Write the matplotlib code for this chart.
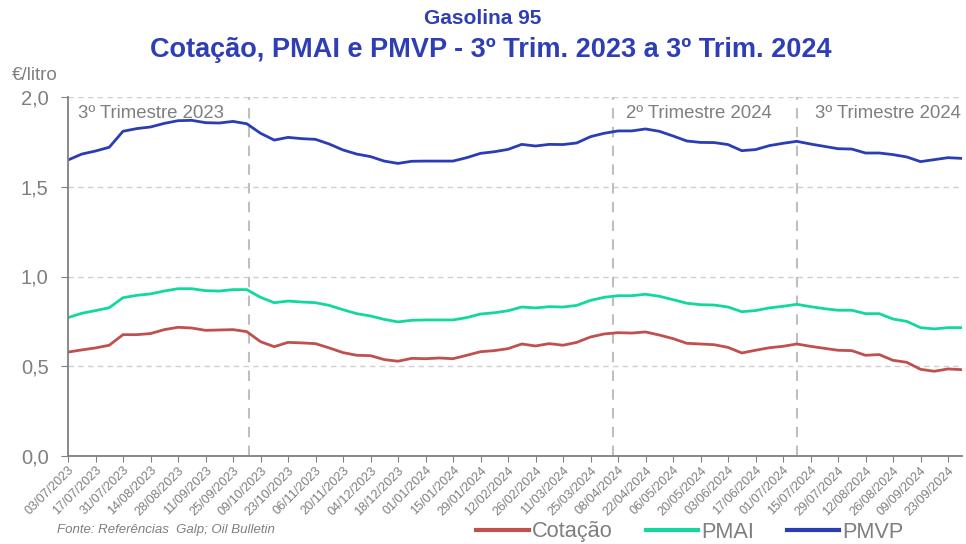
import matplotlib
matplotlib.use("Agg")
import matplotlib.pyplot as plt
import numpy as np

plt.rcParams['font.family'] = ['Liberation Sans', 'DejaVu Sans']

# Weekly series (€/litro), from 03/07/2023 to 30/09/2024
cotacao = [0.579, 0.591, 0.602, 0.617, 0.676, 0.676, 0.682, 0.704, 0.717, 0.713,
           0.700, 0.702, 0.704, 0.693, 0.637, 0.609, 0.633, 0.630, 0.626, 0.602,
           0.576, 0.561, 0.559, 0.537, 0.528, 0.544, 0.542, 0.546, 0.542, 0.561,
           0.581, 0.587, 0.598, 0.624, 0.613, 0.626, 0.617, 0.633, 0.663, 0.680,
           0.687, 0.685, 0.691, 0.674, 0.654, 0.628, 0.624, 0.620, 0.605, 0.574,
           0.589, 0.603, 0.611, 0.624, 0.611, 0.600, 0.589, 0.587, 0.561, 0.565,
           0.533, 0.522, 0.483, 0.472, 0.485, 0.481]
pmai = [0.771, 0.795, 0.810, 0.826, 0.882, 0.895, 0.903, 0.919, 0.932, 0.932,
        0.921, 0.919, 0.927, 0.927, 0.884, 0.854, 0.863, 0.858, 0.854, 0.839,
        0.815, 0.793, 0.780, 0.761, 0.747, 0.756, 0.758, 0.758, 0.758, 0.771,
        0.791, 0.798, 0.809, 0.830, 0.825, 0.832, 0.830, 0.839, 0.867, 0.884,
        0.893, 0.893, 0.901, 0.890, 0.871, 0.851, 0.843, 0.841, 0.830, 0.804,
        0.810, 0.825, 0.834, 0.845, 0.832, 0.821, 0.812, 0.812, 0.793, 0.793,
        0.763, 0.750, 0.715, 0.708, 0.715, 0.715]
pmvp = [1.649, 1.682, 1.699, 1.720, 1.809, 1.824, 1.833, 1.853, 1.868, 1.870,
        1.857, 1.855, 1.864, 1.851, 1.798, 1.760, 1.775, 1.768, 1.764, 1.738,
        1.705, 1.682, 1.668, 1.643, 1.630, 1.642, 1.643, 1.643, 1.643, 1.662,
        1.686, 1.695, 1.708, 1.736, 1.727, 1.736, 1.735, 1.744, 1.779, 1.798,
        1.811, 1.811, 1.822, 1.809, 1.783, 1.755, 1.747, 1.746, 1.735, 1.701,
        1.707, 1.729, 1.742, 1.753, 1.738, 1.725, 1.712, 1.710, 1.688, 1.688,
        1.679, 1.666, 1.640, 1.651, 1.662, 1.658]

tick_labels = ["03/07/2023", "17/07/2023", "31/07/2023", "14/08/2023", "28/08/2023",
               "11/09/2023", "25/09/2023", "09/10/2023", "23/10/2023", "06/11/2023",
               "20/11/2023", "04/12/2023", "18/12/2023", "01/01/2024", "15/01/2024",
               "29/01/2024", "12/02/2024", "26/02/2024", "11/03/2024", "25/03/2024",
               "08/04/2024", "22/04/2024", "06/05/2024", "20/05/2024", "03/06/2024",
               "17/06/2024", "01/07/2024", "15/07/2024", "29/07/2024", "12/08/2024",
               "26/08/2024", "09/09/2024", "23/09/2024"]

quarter_labels = ["3º Trimestre 2023", "2º Trimestre 2024", "3º Trimestre 2024"]
quarter_marks = [13.15, 39.6, 53.0]

series_names = ["Cotação", "PMAI", "PMVP"]
colors = ["#C0504D", "#12D89E", "#2B3DB4"]
gray = "#7F7F7F"

fig = plt.figure(figsize=(9.66, 5.44), dpi=100)
ax = fig.add_axes([68/966, 1-456/544, 893.75/966, 359/544])

x = np.arange(len(cotacao))
for vals, name, c in zip([cotacao, pmai, pmvp], series_names, colors):
    ax.plot(x, vals, color=c, lw=2.0, label=name, solid_joinstyle='round')

ax.set_xlim(0, len(cotacao) - 1)
ax.set_ylim(0, 2.0)
ax.set_yticks([0, 0.5, 1.0, 1.5, 2.0])
ax.set_yticklabels(["0,0", "0,5", "1,0", "1,5", "2,0"])
ax.yaxis.grid(True, linestyle=(0, (4, 3)), color="#D0D0D0", lw=1.0)
ax.set_axisbelow(True)

ax.set_xticks(np.arange(0, len(tick_labels) * 2, 2))
ax.set_xticklabels(tick_labels, rotation=45, ha='right', rotation_mode='anchor',
                   fontsize=9.1, color=gray)
ax.tick_params(axis='x', length=4, color=gray, pad=2)
ax.tick_params(axis='y', length=5, color=gray, labelsize=14.5, labelcolor=gray, pad=9)

for s in ['top', 'right']:
    ax.spines[s].set_visible(False)
for s in ['left', 'bottom']:
    ax.spines[s].set_color(gray)
    ax.spines[s].set_linewidth(1.3)

for pos in quarter_marks:
    ax.axvline(pos, color="#BFBFBF", lw=1.5, linestyle=(0, (5, 4)), zorder=1)

ax.text(0.7, 1.91, quarter_labels[0], color=gray, fontsize=13.4, va='center', ha='left')
ax.text(40.6, 1.91, quarter_labels[1], color=gray, fontsize=13.4, va='center', ha='left')
ax.text(54.3, 1.91, quarter_labels[2], color=gray, fontsize=13.4, va='center', ha='left')

fig.text(12/966, 1-75/544, "€/litro", color=gray, fontsize=13.5, va='center', ha='left')

fig.text(483/966, 1-18/544, "Gasolina 95", color="#2E3FB5", fontsize=15,
         fontweight='bold', ha='center', va='center')
fig.text(491/966, 1-50/544, "Cotação, PMAI e PMVP - 3º Trim. 2023 a 3º Trim. 2024",
         color="#2E3FB5", fontsize=19.5, fontweight='bold', ha='center', va='center')

fig.text(57/966, 1-530/544, "Fonte: Referências  Galp; Oil Bulletin", color=gray,
         fontsize=9.5, style='italic', va='center', ha='left')

leg = fig.legend(loc='center', bbox_to_anchor=(690/966, 1-532/544), ncol=3,
                 frameon=False, fontsize=15.7, handlelength=2.4, columnspacing=1.5,
                 handletextpad=0.15, labelcolor=gray, borderpad=0)
for line in leg.get_lines():
    line.set_linewidth(3)

fig.savefig("out.png", dpi=100)
